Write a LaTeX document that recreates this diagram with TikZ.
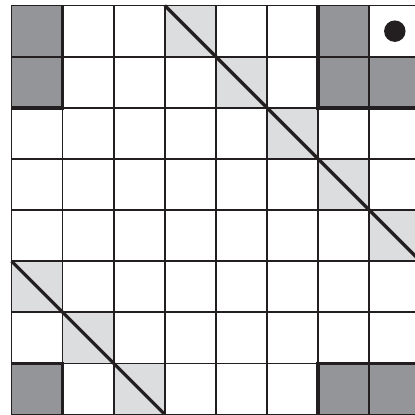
\documentclass[tikz,border=0pt]{standalone}
\definecolor{darkcell}{HTML}{939598}
\definecolor{lightcell}{HTML}{DCDDDF}
\definecolor{ink}{HTML}{231F20}

\begin{document}
\begin{tikzpicture}[
        line join=miter,
        grid line/.style={ink, line width=0.95pt},
        wall line/.style={ink, line width=2pt},
        cut line/.style={ink, line width=1.8pt},
        dark cell/.style={fill=darkcell},
        light cell/.style={fill=lightcell}
    ]
    \useasboundingbox (-0.225,-0.01) rectangle (7.877,8.11);
    \path (3,8) coordinate (cutstart)
        (8,3) coordinate (cutend)
        (0,3) coordinate (lowcutstart)
        (3,0) coordinate (lowcutend)
        (7.5,7.5) coordinate (marker)
    ;
    % corner blocks, column/row counted from the lower left
    \foreach \c/\r in {0/7, 0/6, 6/7, 6/6, 7/6, 0/0, 6/0, 7/0}
        \fill[dark cell] (\c,\r) rectangle ++(1,1);
    % cells crossed by the two diagonals
    \foreach \c/\r in {3/7, 4/6, 5/5, 6/4, 7/3, 0/2, 1/1, 2/0}
        \fill[light cell] (\c,\r) rectangle ++(1,1);

    \draw[grid line] (0,0) grid (8,8);

    \draw[wall line] (1,8) -- (1,6) -- (0,6)
        (6,8) -- (6,6) -- (8,6)
        (0,1) -- (1,1) -- (1,0)
        (8,1) -- (6,1) -- (6,0);

    \draw[cut line] (cutstart) -- (cutend);
    \draw[cut line] (lowcutstart) -- (lowcutend);

    \fill[ink] (marker) circle (0.21);
\end{tikzpicture}
\end{document}
